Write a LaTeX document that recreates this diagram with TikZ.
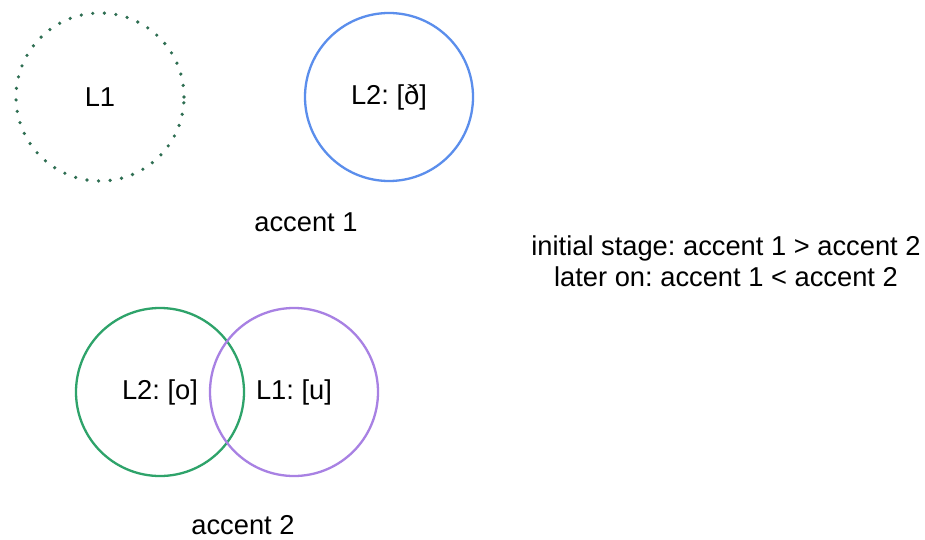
\documentclass[tikz,border=0pt]{standalone}
\usepackage{fontspec}
\setmainfont{Liberation Sans}
\frenchspacing
\definecolor{dotgreen}{HTML}{2E6E52}
\definecolor{cblue}{HTML}{5B8EEC}
\definecolor{cgreen}{HTML}{2EA36A}
\definecolor{cpurple}{HTML}{A881E3}
\begin{document}
\begin{tikzpicture}[x=1pt,y=-1pt,
  lab/.style={font=\fontsize{27.3}{31}\selectfont, inner sep=0pt, align=center},
  ring/.style={circle, minimum size=168pt, inner sep=0pt, line width=2.3pt, font=\fontsize{27.3}{31}\selectfont}]
\useasboundingbox[fill=white] (0,0) rectangle (925,540);
\node[ring, draw=dotgreen, line width=3.6pt, line cap=round, dash pattern=on 0pt off 11.6pt] (l1) at (100,97) {L1};
\node[ring, draw=cblue] (l2a) at (389,97) {L2: [ð]};
\node[lab] (acc1) at (306,222) {accent 1};
\node[ring, draw=cgreen] (l2b) at (160,392) {};
\node[ring, draw=cpurple] (l1b) at (294,392) {};
\node[lab] (l2blab) at (160,392) {L2: [o]};
\node[lab] (l1blab) at (294,392) {L1: [u]};
\node[lab] (acc2) at (243,525) {accent 2};
\node[lab] (note) at (726,261) {initial stage: accent 1 \textgreater{} accent 2\\later on: accent 1 \textless{} accent 2};
\end{tikzpicture}
\end{document}
